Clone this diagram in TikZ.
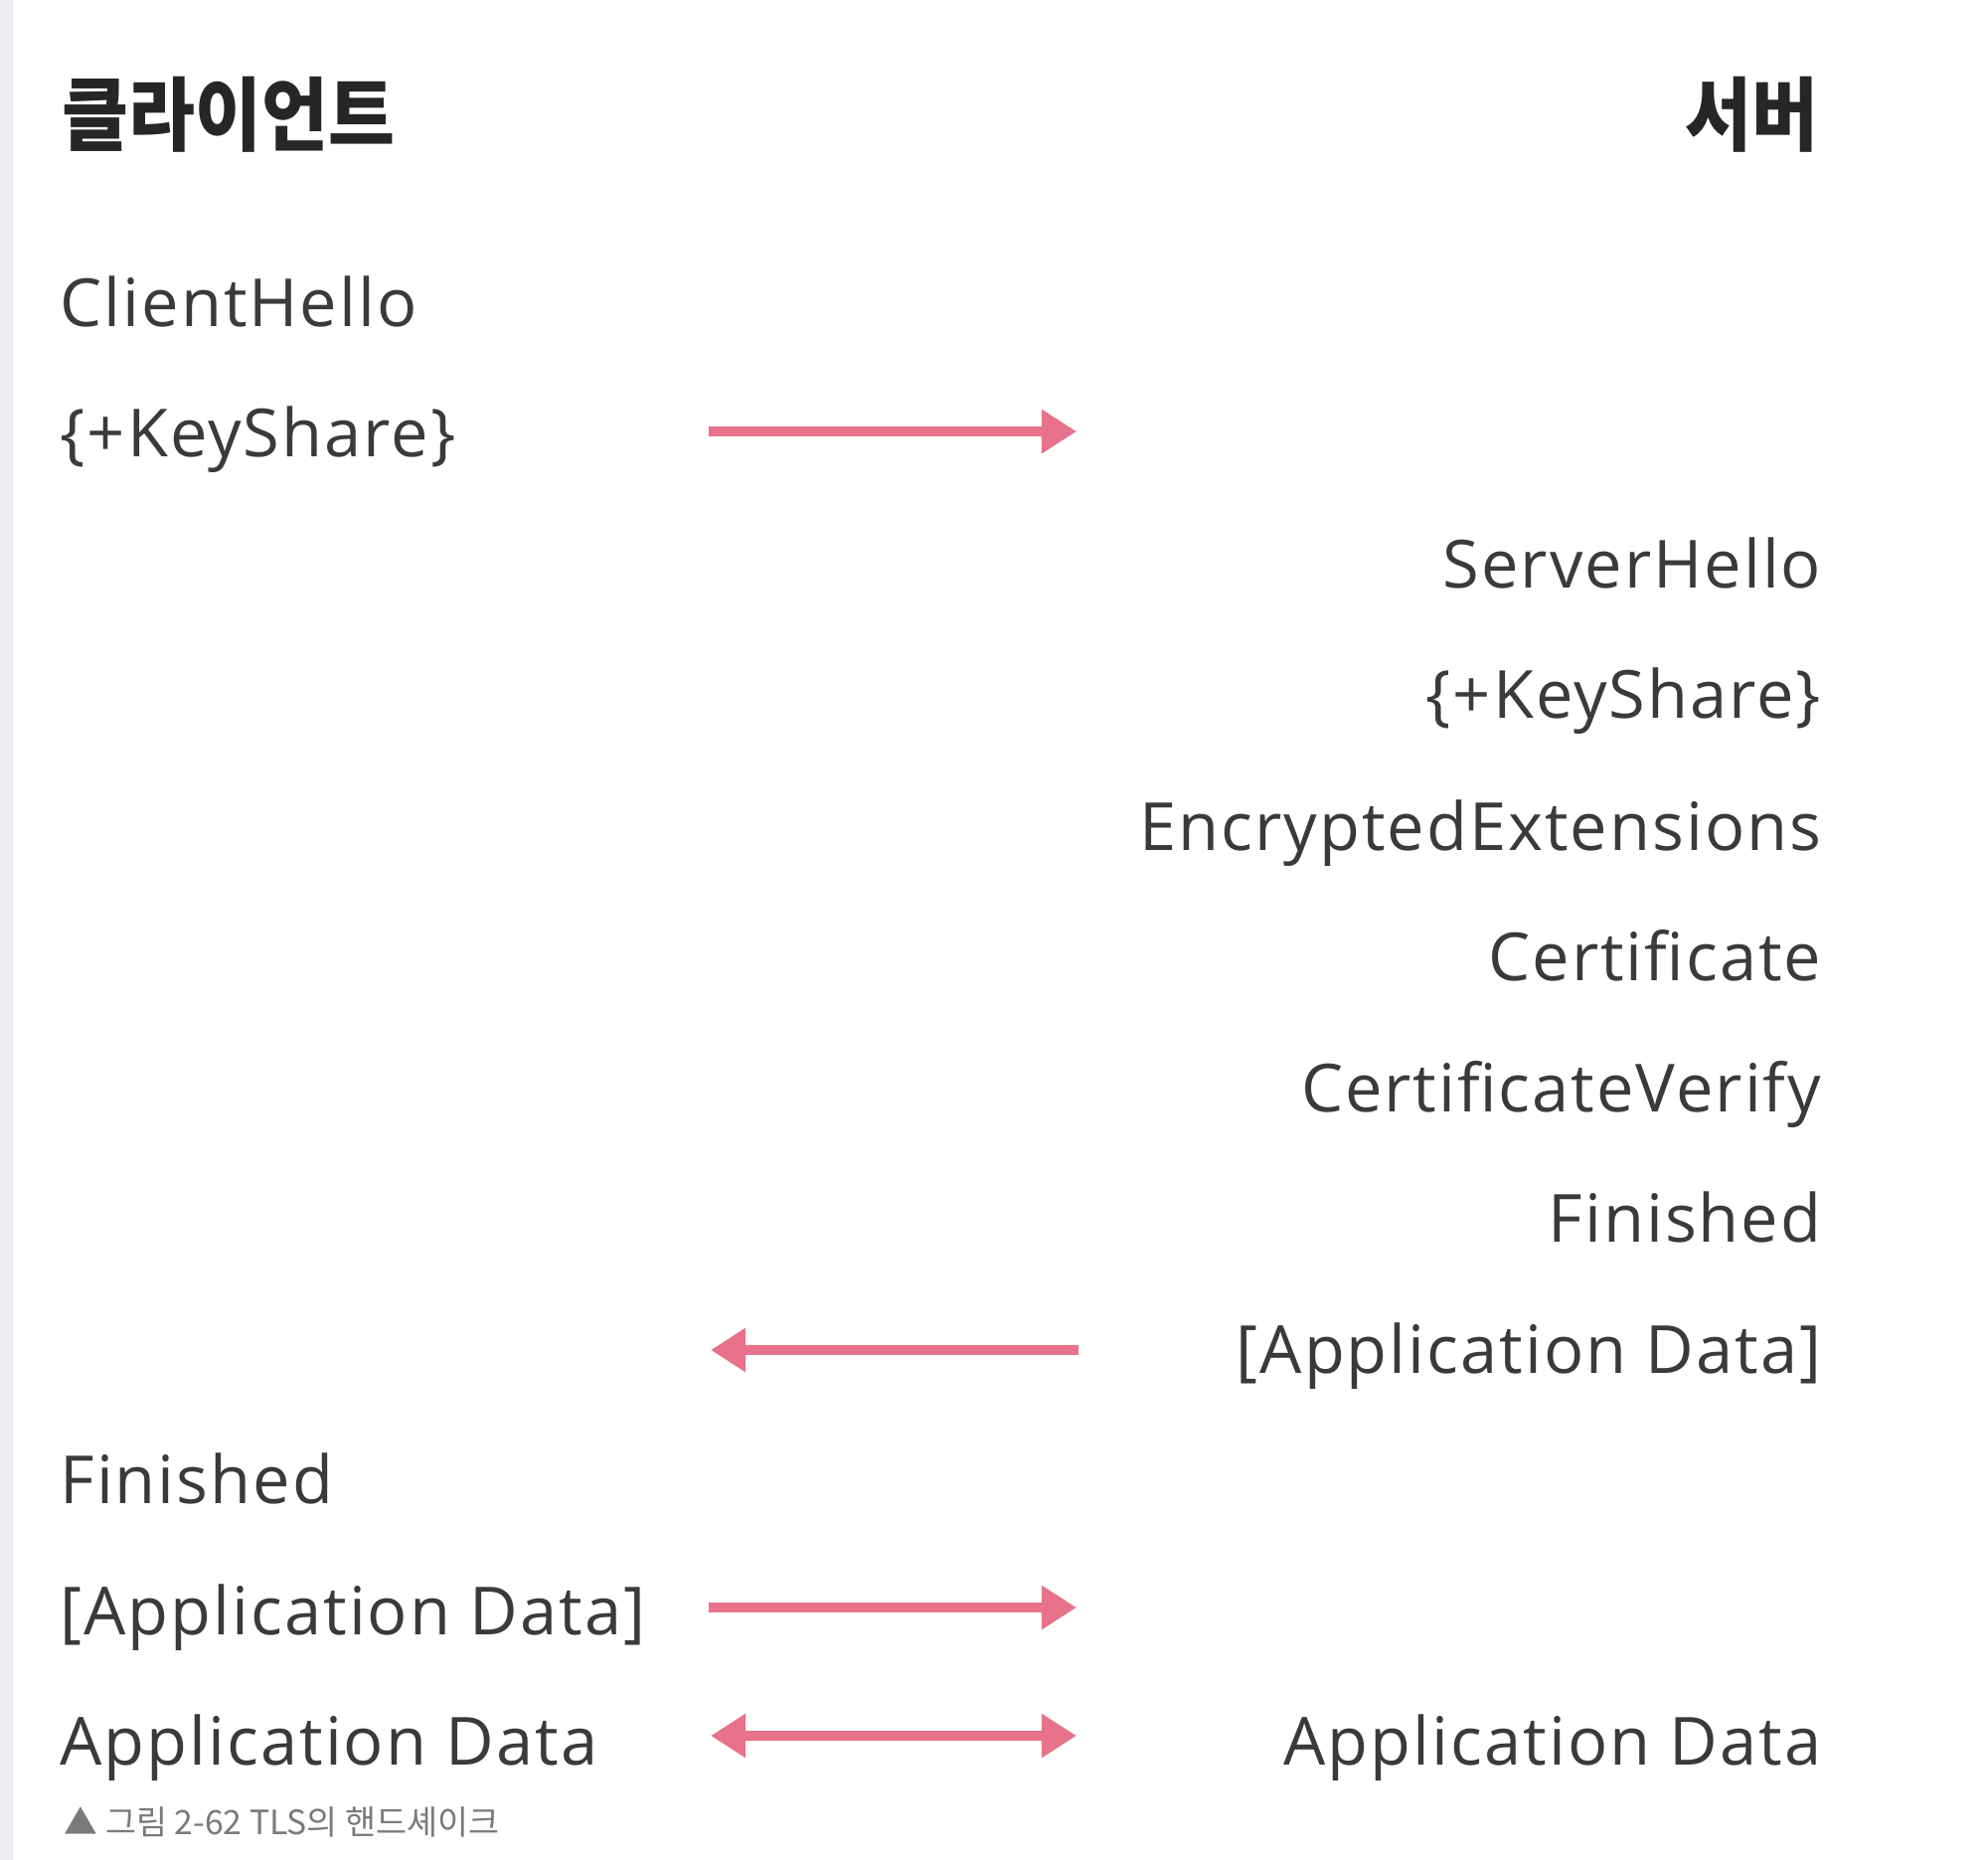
\documentclass[tikz,border=0pt]{standalone}
\usepackage{fontspec}
\setmainfont[LetterSpace=3]{Open Sans}
\newfontfamily\korfont{Noto Sans CJK KR}
\newfontfamily\korhead[FakeStretch=0.9]{Noto Sans CJK KR}
\usetikzlibrary{arrows.meta, positioning}
\usepackage{xcolor}
\definecolor{TextDark}{HTML}{3A3A3A}
\definecolor{ArrowPink}{HTML}{E8728A}
\definecolor{EdgeGray}{HTML}{EBEDF2}
\definecolor{CaptionGray}{HTML}{7A7A7A}

\begin{document}
\begin{tikzpicture}[
            side/.style={font=\korhead\bfseries\fontsize{23}{25}\selectfont, color=black!85},
            msgl/.style={anchor=base west, inner sep=0pt, font=\fontsize{19}{22}\selectfont, color=TextDark},
            msgr/.style={anchor=base east, inner sep=0pt, font=\fontsize{19}{22}\selectfont, color=TextDark},
            arrow/.style={-{Triangle[length=10pt,width=12pt]}, line width=2.6pt, color=ArrowPink},
            biarrow/.style={{Triangle[length=10pt,width=12pt]}-{Triangle[length=10pt,width=12pt]}, line width=2.6pt, color=ArrowPink},
            figcap/.style={anchor=west, inner sep=0pt, font=\korfont\fontsize{9.6}{11}\selectfont, color=CaptionGray}
        ]
            % Page and left strip
            \useasboundingbox (0,0) rectangle (20,-18.71);
            \fill[white] (0,0) rectangle (20,-18.71);
            \fill[EdgeGray] (0,0) rectangle (0.13,-18.71);

            % Headings
            \node[side, anchor=west, inner sep=0pt] (client) at (0.62,-1.15) {클라이언트};
            \node[side, anchor=east, inner sep=0pt] (server) at (18.30,-1.15) {서버};

            % Client messages
            \node[msgl] (chello) at (0.60,-3.29) {ClientHello};
            \node[msgl] (ckey) at (0.60,-4.60) {\{+KeyShare\}};
            \node[msgl] (cfin) at (0.60,-15.12) {Finished};
            \node[msgl] (cappenc) at (0.60,-16.44) {[Application Data]};
            \node[msgl] (capp) at (0.60,-17.75) {Application Data};

            % Server messages
            \node[msgr] (shello) at (18.33,-5.92) {ServerHello};
            \node[msgr] (skey) at (18.33,-7.23) {\{+KeyShare\}};
            \node[msgr] (sext) at (18.33,-8.55) {EncryptedExtensions};
            \node[msgr] (scert) at (18.33,-9.86) {Certificate};
            \node[msgr] (sverify) at (18.33,-11.18) {CertificateVerify};
            \node[msgr] (sfin) at (18.33,-12.49) {Finished};
            \node[msgr] (sappenc) at (18.33,-13.81) {[Application Data]};
            \node[msgr] (sapp) at (18.33,-17.75) {Application Data};

            % Arrow ends
            \coordinate (a1l) at (7.13,-4.34);
            \coordinate (a1r) at (10.83,-4.34);
            \coordinate (a2l) at (7.15,-13.58);
            \coordinate (a2r) at (10.85,-13.58);
            \coordinate (a3l) at (7.13,-16.17);
            \coordinate (a3r) at (10.83,-16.17);
            \coordinate (a4l) at (7.15,-17.46);
            \coordinate (a4r) at (10.83,-17.46);

            % Exchange arrows
            \draw[arrow] (a1l) -- (a1r);
            \draw[arrow] (a2r) -- (a2l);
            \draw[arrow] (a3l) -- (a3r);
            \draw[biarrow] (a4l) -- (a4r);

            % Caption
            \node[figcap] (caption) at (0.64,-18.33) {▲ 그림 2-62 TLS의 핸드셰이크};
        \end{tikzpicture}
\end{document}
